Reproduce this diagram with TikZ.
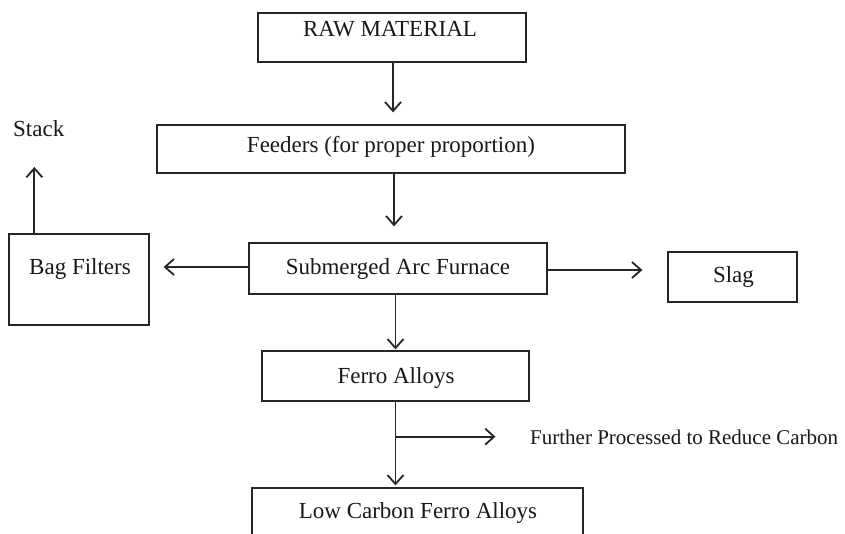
\documentclass[tikz,border=0pt]{standalone}
\usepackage{fontspec}
\setmainfont{Liberation Serif}
\usetikzlibrary{arrows.meta,calc}
\begin{document}
\begin{tikzpicture}[x=1pt,y=-1pt,
  box/.style={draw=black!85, line width=1.3pt, inner sep=0pt},
  txt/.style={inner sep=0pt, anchor=base, text=black!90, font=\fontsize{23}{27}\selectfont},
  arr/.style={draw=black!85, line width=1.8pt, -{Straight Barb[length=9pt,width=16pt,line width=1.8pt]}}]
\useasboundingbox (0,0) rectangle (845,534);
\fill[white] (0,0) rectangle (845,534);
% boxes
\node[box, minimum width=268pt, minimum height=49pt] (raw) at (392,37.5) {};
\node[box, minimum width=468pt, minimum height=48pt] (feed) at (391,149) {};
\node[box, minimum width=298pt, minimum height=51pt] (saf) at (398,268.5) {};
\node[box, minimum width=140pt, minimum height=91pt] (bag) at (79,279.5) {};
\node[box, minimum width=129pt, minimum height=50pt] (slag) at (732.5,277) {};
\node[box, minimum width=267pt, minimum height=50pt] (ferro) at (395.5,376) {};
\node[box, minimum width=331pt, minimum height=60pt] (low) at (417.5,518) {};
% texts
\node[txt] (traw) at (390,37) {RAW MATERIAL};
\node[txt] (tfeed) at (391,153) {Feeders (for proper proportion)};
\node[txt] (tsaf) at (398,275) {Submerged Arc Furnace};
\node[txt] (tbag) at (80,275) {Bag Filters};
\node[txt] (tslag) at (733.5,283) {Slag};
\node[txt] (tferro) at (396,383) {Ferro Alloys};
\node[txt] (tlow) at (418,518) {Low Carbon Ferro Alloys};
\node[txt, anchor=base west] (stack) at (13,137) {Stack};
\node[txt, anchor=base west, font=\fontsize{21}{25}\selectfont] (further) at (530,444) {Further Processed to Reduce Carbon};
% connectors
\draw[arr, shorten >=12pt] ([xshift=1pt]raw.south) -- ([xshift=1pt]raw.south |- feed.north);
\draw[arr, shorten >=16pt] ([xshift=3pt]feed.south) -- ([xshift=3pt]feed.south |- saf.north);
\draw[arr, shorten >=1pt] (ferro.north |- saf.south) -- (ferro.north);
\draw[arr, shorten >=14pt] ([yshift=1.5pt]saf.west) -- ([yshift=1.5pt]bag.east |- saf.west);
\draw[arr, shorten >=25pt] ([yshift=-1.5pt]saf.east) -- ([yshift=-1.5pt]slag.west |- saf.east);
\coordinate (bagtop) at ($(bag.north west)+(26,0)$);
\draw[arr, shorten >=0pt] (bagtop) -- (bagtop |- 0,167);
\draw[arr, shorten >=2pt] (ferro.south) -- (ferro.south |- low.north);
\coordinate (br) at ($(ferro.south)+(0,35)$);
\coordinate (brend) at ($(br)+(100,0)$);
\draw[arr] (br) -- (brend);
\end{tikzpicture}
\end{document}
